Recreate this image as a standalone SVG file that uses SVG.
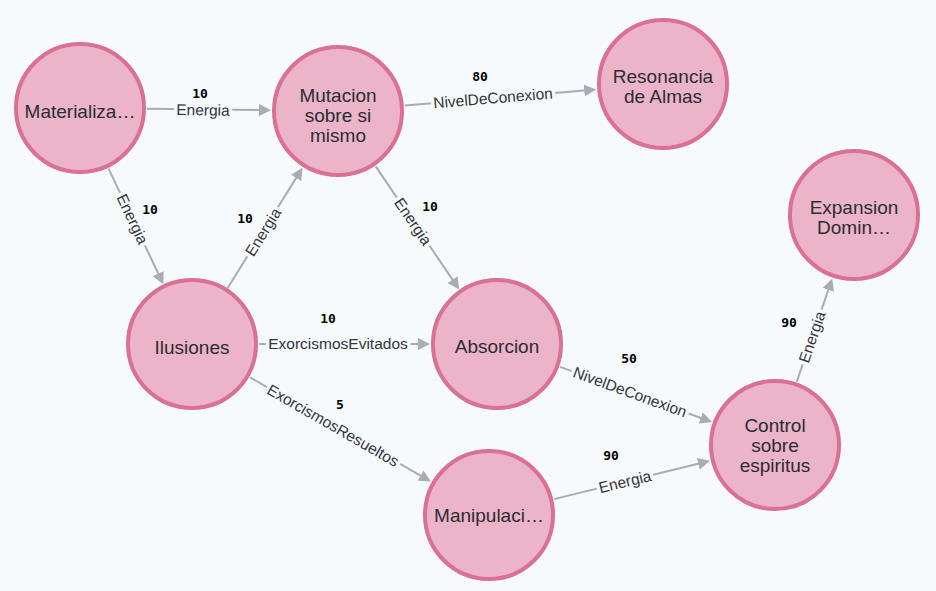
<svg xmlns="http://www.w3.org/2000/svg" width="936" height="591" viewBox="0 0 936 591">
<style>
.bg{fill:#f7fafd}
.node circle{fill:#ecb4c8;stroke:#da7094;stroke-width:4}
.node text{font-family:"Liberation Sans",Arial,sans-serif;font-size:19px;fill:#2b2c34;text-anchor:middle}
.edge line{stroke:#a7acb6;stroke-width:2;fill:none}
.lbl{font-family:"Liberation Sans",Arial,sans-serif;font-size:15.5px;fill:#33343c;text-anchor:middle;stroke:#f7fafd;stroke-width:7;stroke-linejoin:round;paint-order:stroke}
.num{font-family:"DejaVu Sans Mono","Liberation Mono",monospace;font-size:13px;font-weight:bold;fill:#000;text-anchor:middle}
</style>
<defs>
<marker id="arr" markerWidth="12" markerHeight="12" refX="6" refY="6" orient="auto" markerUnits="userSpaceOnUse">
<path d="M0,0 L12,6 L0,12 z" fill="#a7acb6"/>
</marker>
</defs>
<rect class="bg" x="0" y="0" width="936" height="591"/>
<g id="connectors">
<g class="edge" id="e1"><line x1="147" y1="108.8" x2="265" y2="110.1" marker-end="url(#arr)"/><text class="lbl" transform="translate(203,110) rotate(0.7)" y="5.4">Energia</text><text class="num" x="200" y="97.5">10</text></g>
<g class="edge" id="e2"><line x1="108.6" y1="168.6" x2="160.8" y2="279" marker-end="url(#arr)"/><text class="lbl" transform="translate(132.5,219) rotate(64.7)" y="5.4">Energia</text><text class="num" x="150" y="213.5">10</text></g>
<g class="edge" id="e3"><line x1="227.5" y1="288.2" x2="299.3" y2="172.9" marker-end="url(#arr)"/><text class="lbl" transform="translate(263,232) rotate(-58)" y="5.4">Energia</text><text class="num" x="245" y="222.5">10</text></g>
<g class="edge" id="e4"><line x1="375.7" y1="166.4" x2="455.9" y2="284.6" marker-end="url(#arr)"/><text class="lbl" transform="translate(413,221.5) rotate(55.8)" y="5.4">Energia</text><text class="num" x="430" y="210.5">10</text></g>
<g class="edge" id="e5"><line x1="404.8" y1="105.5" x2="590.2" y2="90" marker-end="url(#arr)"/><text class="lbl" transform="translate(493,98) rotate(-4.75)" y="5.4">NivelDeConexion</text><text class="num" x="480" y="80.5">80</text></g>
<g class="edge" id="e6"><line x1="259" y1="344" x2="424" y2="344" marker-end="url(#arr)"/><text class="lbl" transform="translate(338,344)" y="5.4">ExorcismosEvitados</text><text class="num" x="328" y="322.5">10</text></g>
<g class="edge" id="e7"><line x1="250.1" y1="377.4" x2="425.7" y2="478.6" marker-end="url(#arr)"/><text class="lbl" transform="translate(333,425.5) rotate(29.9)" y="5.4">ExorcismosResueltos</text><text class="num" x="340" y="408.5">5</text></g>
<g class="edge" id="e8"><line x1="560" y1="366.9" x2="706.4" y2="420" marker-end="url(#arr)"/><text class="lbl" transform="translate(630,392) rotate(20)" y="5.4">NivelDeConexion</text><text class="num" x="629" y="362.5">50</text></g>
<g class="edge" id="e9"><line x1="554.1" y1="499.1" x2="704.1" y2="462.3" marker-end="url(#arr)"/><text class="lbl" transform="translate(625,481.7) rotate(-13.75)" y="5.4">Energia</text><text class="num" x="611" y="459.5">90</text></g>
<g class="edge" id="e10"><line x1="796.8" y1="381.6" x2="830.3" y2="284.1" marker-end="url(#arr)"/><text class="lbl" transform="translate(812,337) rotate(-71)" y="5.4">Energia</text><text class="num" x="789" y="326.5">90</text></g>
</g>
<g class="node" id="materializa"><circle cx="80" cy="108" r="64"/><text x="80" y="117.5">Materializa…</text></g>
<g class="node" id="mutacion"><circle cx="338" cy="111" r="64"/><text x="338" y="101.5">Mutacion</text><text x="338" y="121.5">sobre si</text><text x="338" y="141.5">mismo</text></g>
<g class="node" id="resonancia"><circle cx="663" cy="84" r="64"/><text x="663" y="82.7">Resonancia</text><text x="663" y="102.7">de Almas</text></g>
<g class="node" id="expansion"><circle cx="854" cy="215" r="64"/><text x="854" y="214">Expansion</text><text x="854" y="234">Domin…</text></g>
<g class="node" id="ilusiones"><circle cx="192" cy="344" r="64"/><text x="192" y="354">Ilusiones</text></g>
<g class="node" id="absorcion"><circle cx="497" cy="344" r="64"/><text x="497" y="353">Absorcion</text></g>
<g class="node" id="control"><circle cx="775" cy="445" r="64"/><text x="775" y="432">Control</text><text x="775" y="452">sobre</text><text x="775" y="472">espiritus</text></g>
<g class="node" id="manipulacion"><circle cx="489" cy="515" r="64"/><text x="489" y="522">Manipulaci…</text></g>
</svg>
